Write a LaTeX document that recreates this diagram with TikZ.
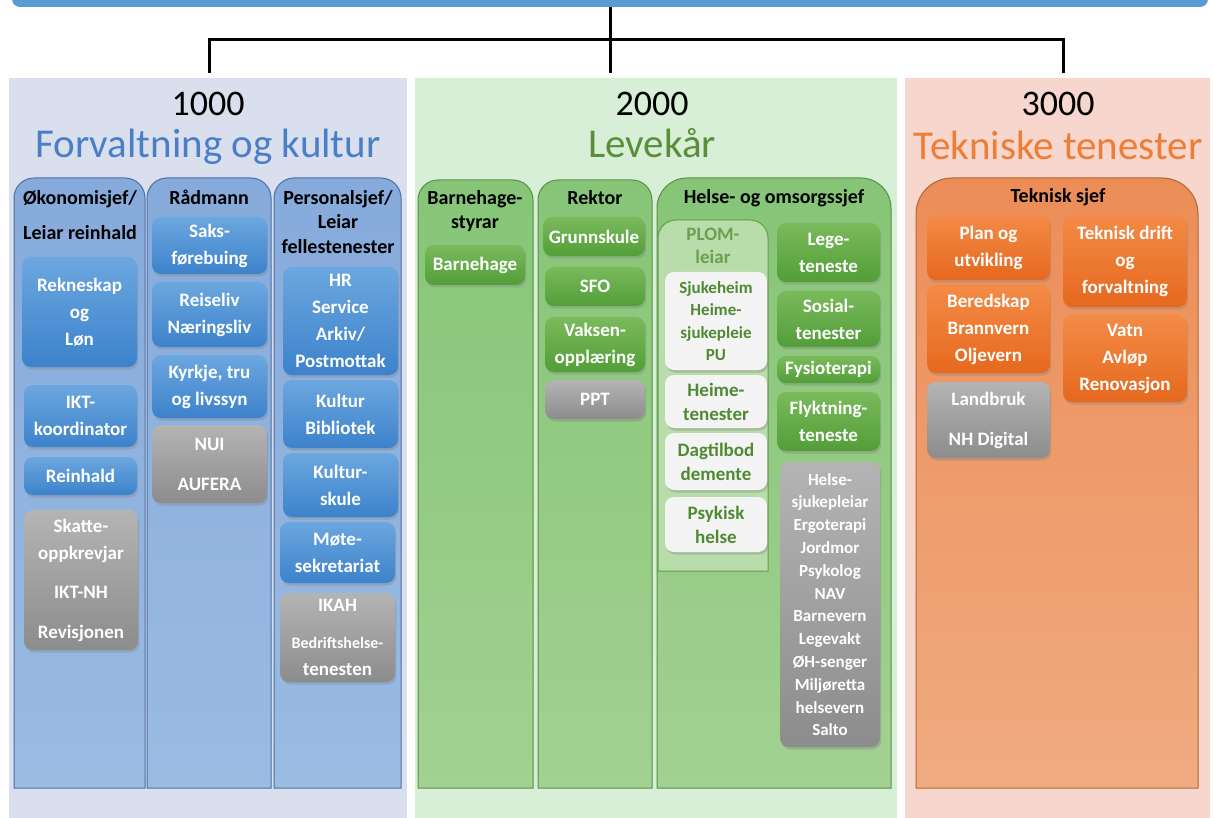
\documentclass[tikz,border=0pt]{standalone}
\usepackage{fontspec}
\setmainfont{Carlito}
\usetikzlibrary{shadows}
\definecolor{barblue}{HTML}{5B9BD5}
\definecolor{tblue}{HTML}{4A7FC8}
\definecolor{tgreen}{HTML}{5B8E3B}
\definecolor{plomtxt}{HTML}{6A9E50}
\definecolor{torange}{HTML}{EE7D35}
\definecolor{pblue}{HTML}{DADFEE}
\definecolor{pgreen}{HTML}{D6EFD6}
\definecolor{porange}{HTML}{F6D6CD}
\definecolor{wtxt}{HTML}{4F8A32}
\definecolor{bbtop}{HTML}{6CA7DF}
\definecolor{bbbot}{HTML}{3C82CB}
\definecolor{gbtop}{HTML}{7ABA5C}
\definecolor{gbbot}{HTML}{529E38}
\definecolor{obtop}{HTML}{F38B46}
\definecolor{obbot}{HTML}{E6681E}
\definecolor{gytop}{HTML}{B4B4B4}
\definecolor{gybot}{HTML}{8C8C8C}
\definecolor{wbfill}{HTML}{F4F4F4}
\definecolor{bctop}{HTML}{86AADB}
\definecolor{bcbot}{HTML}{9ABBE2}
\definecolor{bcdraw}{HTML}{4C6FA6}
\definecolor{gctop}{HTML}{86C577}
\definecolor{gcbot}{HTML}{A2D191}
\definecolor{gcdraw}{HTML}{5A8F44}
\definecolor{octop}{HTML}{EC8D58}
\definecolor{ocbot}{HTML}{F0AB80}
\definecolor{ocdraw}{HTML}{B46633}
\definecolor{plfill}{HTML}{B8DDAA}
\definecolor{pldraw}{HTML}{649B4E}
\newcommand\bx[7]{\node[#2, minimum width={#5-#3}, minimum height={#6-#4}] (#1) at ({(#3+#5)/2},{(#4+#6)/2}) {#7};}
\newcommand\colpath[6]{\path[#1] (#2,#5) [rounded corners=#6] -- (#2,#3) -- (#4,#3) [sharp corners] -- (#4,#5) -- cycle;}
\tikzset{
  sh/.style={drop shadow={shadow xshift=1.2pt, shadow yshift=-2.5pt, opacity=0.35}},
  boxbase/.style={rectangle, rounded corners=9pt, inner sep=0pt, align=center, text=white,
    font=\bfseries\fontsize{19}{27}\selectfont, sh},
  bb/.style={boxbase, top color=bbtop, bottom color=bbbot},
  gbx/.style={boxbase, top color=gbtop, bottom color=gbbot},
  obx/.style={boxbase, top color=obtop, bottom color=obbot},
  gy/.style={boxbase, top color=gytop, bottom color=gybot},
  wb/.style={boxbase, fill=wbfill, text=wtxt, font=\bfseries\fontsize{19}{24}\selectfont},
  bcol/.style={top color=bctop, bottom color=bcbot, draw=bcdraw, line width=1pt},
  gcol/.style={top color=gctop, bottom color=gcbot, draw=gcdraw, line width=1pt},
  ocol/.style={top color=octop, bottom color=ocbot, draw=ocdraw, line width=1pt},
  plomcol/.style={fill=plfill, draw=pldraw, line width=1pt},
  hd/.style={align=center, inner sep=0pt, font=\bfseries\fontsize{20}{24.5}\selectfont},
  num/.style={inner sep=0pt, font=\fontsize{36}{40}\selectfont, anchor=base},
  ttl/.style={inner sep=0pt, font=\fontsize{41}{46}\selectfont, anchor=base},
  conn/.style={line width=3pt, black},
  panel/.style={rectangle, inner sep=0pt, anchor=north west, minimum height=760}
}
\begin{document}
\begin{tikzpicture}[x=1pt,y=-1pt]
\useasboundingbox (0,0) rectangle (1213,818);
\clip (0,0) rectangle (1213,818);
\fill[white] (0,0) rectangle (1213,818);
% top bar
\node[rectangle, rounded corners=8pt, fill=barblue, minimum width=1196, minimum height=30, inner sep=0pt] (topbar) at (610,-8) {};
% panels
\node[panel, fill=pblue, minimum width=398] (p1) at (9,78) {};
\node[panel, fill=pgreen, minimum width=482] (p2) at (415,78) {};
\node[panel, fill=porange, minimum width=305] (p3) at (905,78) {};
% connectors
\coordinate (c1) at (209,73);
\coordinate (c2) at (610,73);
\coordinate (c3) at (1063,73);
\coordinate (hl) at (0,40);
\draw[conn] (topbar.south) -- (c2);
\draw[conn] (c1) -- (c1 |- hl) -- (c3 |- hl) -- (c3);
% titles
\node[num] (n1) at (208,116) {1000};
\node[ttl, text=tblue] (t1) at (208,158) {Forvaltning og kultur};
\node[num] (n2) at (652,116) {2000};
\node[ttl, text=tgreen] (t2) at (652,158) {Levekår};
\node[num] (n3) at (1058,116) {3000};
\node[ttl, text=torange] (t3) at (1058,160) {Tekniske tenester};
% columns
\colpath{bcol}{14}{178}{145}{788}{20pt}
\colpath{bcol}{147}{178}{271}{788}{20pt}
\colpath{bcol}{274}{178}{401}{788}{20pt}
\colpath{gcol}{418}{180}{533}{788}{20pt}
\colpath{gcol}{538}{180}{652}{788}{20pt}
\colpath{gcol}{657}{178}{891}{788}{30pt}
\colpath{ocol}{916}{178}{1198}{788}{36pt}
\colpath{plomcol}{658}{220}{768}{571}{18pt}
% headers
\node[hd] (hok) at (80,215) {Økonomisjef/\\[11pt]Leiar reinhald};
\node[hd] (hrad) at (209,197) {Rådmann};
\node[hd] (hper) at (338,222) {Personalsjef/\\Leiar\\fellestenester};
\node[hd] (hbhg) at (475,211) {Barnehage-\\styrar};
\node[hd] (hrek) at (595,198) {Rektor};
\node[hd] (hhel) at (774,198) {Helse- og omsorgssjef};
\node[hd, text=plomtxt, font=\bfseries\fontsize{19}{23}\selectfont] (hplom) at (713,246) {PLOM-\\leiar};
\node[hd] (htek) at (1058,197) {Teknisk sjef};
% blue col 1
\bx{rek}{bb}{22}{257}{137}{367}{Rekneskap\\og\\Løn}
\bx{ikt}{bb}{24}{385}{137}{447}{IKT-\\koordinator}
\bx{rein}{bb}{24}{457}{137}{495}{Reinhald}
\bx{skatt}{gy}{24}{510}{138}{650}{Skatte-\\oppkrevjar\\[12pt]IKT-NH\\[13pt]Revisjonen}
% blue col 2
\bx{saks}{bb}{152}{217}{267}{274}{Saks-\\førebuing}
\bx{reis}{bb}{152}{282}{267}{347}{Reiseliv\\Næringsliv}
\bx{kyrk}{bb}{152}{355}{267}{418}{Kyrkje, tru\\og livssyn}
\bx{nui}{gy}{152}{425}{267}{503}{NUI\\[13pt]AUFERA}
% blue col 3
\bx{hr}{bb}{283}{267}{398}{375}{HR\\Service\\Arkiv/\\Postmottak}
\bx{kult}{bb}{283}{380}{398}{448}{Kultur\\Bibliotek}
\bx{ksk}{bb}{283}{453}{398}{517}{Kultur-\\skule}
\bx{mote}{bb}{280}{522}{395}{583}{Møte-\\sekretariat}
\bx{ikah}{gy}{280}{593}{395}{682}{IKAH\\[10pt]\fontsize{16}{22}\selectfont Bedriftshelse-\\tenesten}
% green
\bx{bhg}{gbx}{425}{245}{525}{285}{Barnehage}
\bx{grs}{gbx}{543}{217}{645}{256}{Grunnskule}
\bx{sfo}{gbx}{545}{267}{645}{306}{SFO}
\bx{vaks}{gbx}{545}{317}{645}{372}{Vaksen-\\opplæring}
\bx{ppt}{gy}{545}{380}{645}{419}{PPT}
% PLOM
\bx{sjh}{wb, font=\bfseries\fontsize{17}{22.3}\selectfont}{665}{272}{767}{370}{Sjukeheim\\Heime-\\sjukepleie\\PU}
\bx{hte}{wb}{665}{375}{767}{428}{Heime-\\tenester}
\bx{dag}{wb}{665}{433}{767}{490}{Dagtilbod\\demente}
\bx{psy}{wb}{665}{497}{767}{552}{Psykisk\\helse}
% helse right
\bx{lege}{gbx}{777}{223}{880}{282}{Lege-\\teneste}
\bx{sos}{gbx}{777}{291}{880}{347}{Sosial-\\tenester}
\bx{fys}{gbx}{777}{356}{880}{383}{Fysioterapi}
\bx{flykt}{gbx}{777}{392}{880}{451}{Flyktning-\\teneste}
\bx{helse}{gy, font=\bfseries\fontsize{17}{22.8}\selectfont}{780}{462}{880}{747}{Helse-\\sjukepleiar\\Ergoterapi\\Jordmor\\Psykolog\\NAV\\Barnevern\\Legevakt\\ØH-senger\\Miljøretta\\helsevern\\Salto}
% orange
\bx{plan}{obx}{927}{215}{1050}{280}{Plan og\\utvikling}
\bx{bered}{obx}{927}{285}{1050}{373}{Beredskap\\Brannvern\\Oljevern}
\bx{land}{gy}{927}{382}{1050}{458}{Landbruk\\[13pt]NH Digital}
\bx{tdrift}{obx}{1063}{215}{1187}{307}{Teknisk drift\\og\\forvaltning}
\bx{vatn}{obx}{1063}{315}{1187}{402}{Vatn\\Avløp\\Renovasjon}
\end{tikzpicture}
\end{document}
